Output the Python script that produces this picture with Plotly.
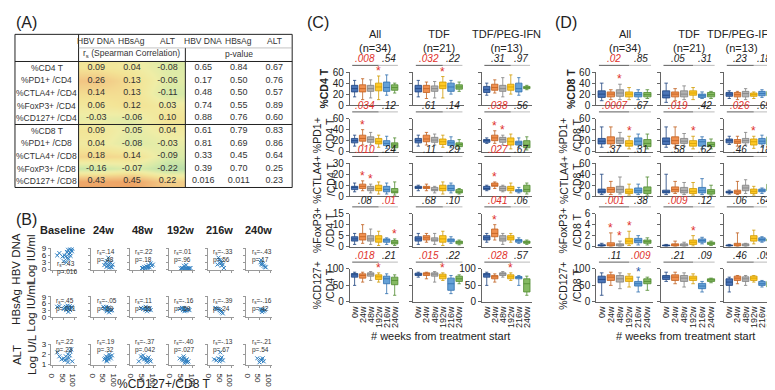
import plotly.graph_objects as go

W, H = 775, 390
FONT = "Liberation Sans, Arial, sans-serif"

# ------------------------------------------------------------------ (A) table data
TABLE_ROWS = ["%CD4 T", "%PD1+ /CD4", "%CTLA4+ /CD4", "%FoxP3+ /CD4", "%CD127+ /CD4",
              "%CD8 T", "%PD1+ /CD8", "%CTLA4+ /CD8", "%FoxP3+ /CD8", "%CD127+ /CD8"]
TABLE_COLS = ["HBV DNA", "HBsAg", "ALT"]
RS_HBVDNA = [0.09, 0.26, 0.14, 0.06, -0.03, 0.09, 0.04, 0.18, -0.16, 0.43]
RS_HBSAG = [0.04, 0.13, 0.13, 0.12, -0.06, -0.05, -0.08, 0.14, -0.07, 0.45]
RS_ALT = [-0.08, -0.06, -0.11, 0.03, 0.10, 0.04, -0.03, -0.09, -0.22, 0.22]
P_HBVDNA = ["0.65", "0.17", "0.48", "0.74", "0.88", "0.61", "0.81", "0.33", "0.39", "0.016"]
P_HBSAG = ["0.84", "0.50", "0.50", "0.55", "0.76", "0.79", "0.69", "0.45", "0.70", "0.011"]
P_ALT = ["0.67", "0.76", "0.57", "0.89", "0.60", "0.83", "0.86", "0.64", "0.25", "0.23"]

# ------------------------------------------------------------------ (B) scatter data
B_TIMES = ["Baseline", "24w", "48w", "192w", "216w", "240w"]
HBV_X = [[70, 78, 85, 88, 65, 75, 80, 60, 68, 72, 55, 45, 30, 20, 82, 90, 50, 63],
         [60, 65, 70, 75, 80, 85, 55, 62, 72, 78, 50, 68, 88],
         [50, 60, 70, 80, 90, 65, 75, 85, 55, 45, 95, 72],
         [45, 55, 60, 65, 70, 75, 80, 85, 60, 70, 90, 50],
         [40, 45, 50, 55, 48, 60, 55, 65, 35],
         [55, 60, 62, 65, 70, 75, 58, 80]]
HBV_Y = [[8.5, 8.8, 8.3, 7.8, 7.5, 6.5, 7.0, 5.5, 5.0, 4.5, 6.0, 5.5, 7.0, 6.0, 5.8, 8.9, 3.5, 3.0],
         [1.0, 1.5, 2.0, 2.5, 1.0, 0.8, 2.8, 3.5, 0.7, 3.0, 1.8, 5.0, 2.0],
         [0.5, 0.5, 0.5, 0.8, 1.5, 1.2, 1.8, 2.5, 1.0, 0.5, 2.0, 1.0],
         [0.3, 0.3, 0.3, 0.3, 0.3, 0.3, 0.3, 0.3, 1.5, 1.8, 0.5, 0.5],
         [5.0, 4.0, 3.5, 3.0, 2.5, 2.0, 1.5, 0.5, 2.0],
         [3.0, 2.5, 2.0, 2.2, 1.5, 1.0, 4.0, 0.8]]
HBSAG_X = [[20, 30, 50, 55, 60, 65, 70, 75, 78, 80, 85, 88, 72, 62, 68],
           [45, 50, 55, 60, 65, 70, 75, 80, 62, 58, 85, 72],
           [40, 50, 55, 60, 65, 70, 75, 80, 68, 85, 62],
           [40, 50, 55, 60, 65, 70, 75, 80, 62, 58, 85],
           [25, 30, 40, 45, 50, 55, 48, 60],
           [55, 60, 65, 70, 75, 62]]
HBSAG_Y = [[4.5, 4.8, 3.5, 4.0, 4.5, 3.8, 4.2, 3.5, 4.8, 3.0, 4.0, 4.5, 2.2, 3.0, 5.0],
           [4.5, 4.0, 3.5, 3.0, 3.8, 4.2, 3.2, 2.8, 2.5, 4.5, 3.0, 2.0],
           [4.0, 3.5, 4.0, 3.0, 3.5, 4.0, 3.2, 3.8, 2.5, 3.0, 4.5],
           [3.5, 4.0, 3.0, 3.5, 3.0, 2.8, 3.2, 3.5, 2.5, 4.0, 3.0],
           [4.0, 3.8, 3.5, 3.0, 2.5, 2.0, 3.2, 1.5],
           [3.5, 3.0, 3.2, 2.5, 3.0, 2.2]]
ALT_X = [[20, 30, 40, 50, 55, 60, 65, 70, 75, 80, 85, 90, 70, 78],
         [50, 55, 60, 65, 70, 75, 80, 85, 62, 72, 58],
         [30, 40, 45, 55, 60, 65, 70, 75, 80, 85, 50, 68],
         [40, 50, 55, 60, 65, 70, 75, 80, 58, 62, 72],
         [20, 30, 40, 45, 50, 55, 48, 60],
         [40, 55, 60, 65, 70, 50]]
ALT_Y = [[2.2, 1.8, 1.5, 1.6, 1.4, 1.8, 1.5, 2.0, 1.6, 2.3, 2.5, 1.3, 1.2, 1.9],
         [1.5, 1.6, 1.4, 1.7, 1.5, 1.8, 1.6, 1.9, 1.3, 2.0, 1.8],
         [1.3, 1.8, 1.6, 1.5, 1.6, 1.4, 1.5, 1.7, 1.4, 1.3, 1.9, 1.2],
         [1.6, 1.5, 1.4, 1.6, 1.3, 1.4, 1.2, 1.3, 1.8, 1.1, 1.5],
         [1.5, 1.4, 1.6, 1.3, 1.5, 1.7, 2.2, 1.4],
         [1.6, 1.5, 1.4, 1.6, 1.3, 1.2]]
HBV_RS = [".43", ".14", ".22", ".01", "-.33", "-.43"]
HBV_P = [".016", ".48", ".18", ".96", ".56", ".17"]
HBSAG_RS = [".45", "-.05", ".11", "-.16", "-.39", "-.16"]
HBSAG_P = [".011", ".69", ".55", ".59", ".24", ".42"]
ALT_RS = [".22", ".19", "-.37", "-.40", "-.13", "-.21"]
ALT_P = [".23", ".32", ".042", ".027", ".67", ".54"]

# ------------------------------------------------------------------ (C)/(D) box data
WEEKS = ["0w", "24w", "48w", "192w", "216w", "240w"]
GROUPS = ["All<br>(n=34)", "TDF<br>(n=21)", "TDF/PEG-IFN<br>(n=13)"]
# each box: (lower whisker, q1, median, q3, upper whisker)
C_CD4T = [
    [(15, 24, 30, 36, 45), (10, 24, 30, 37, 48), (13, 25, 30, 36, 46), (10, 26, 33, 40, 53), (18, 25, 32, 42, 55), (22, 27, 32, 37, 40)],
    [(15, 24, 30, 36, 45), (12, 23, 30, 36, 42), (13, 25, 30, 35, 43), (13, 30, 35, 42, 52), (20, 25, 33, 40, 45), (25, 29, 33, 37, 42)],
    [(18, 23, 28, 34, 40), (22, 27, 32, 38, 46), (15, 25, 30, 36, 50), (20, 27, 33, 38, 55), (18, 24, 30, 40, 50), (28, 30, 32, 34, 36)]]
C_PD1 = [
    [(10, 16, 20, 24, 30), (12, 19, 24, 30, 40), (12, 17, 22, 27, 35), (8, 14, 18, 24, 30), (6, 11, 15, 20, 28), (3, 7, 12, 16, 25)],
    [(10, 16, 20, 24, 30), (12, 18, 23, 30, 35), (12, 17, 21, 26, 32), (8, 13, 18, 23, 30), (7, 11, 16, 20, 27), (5, 9, 13, 16, 22)],
    [(15, 17, 20, 22, 25), (15, 20, 25, 30, 38), (12, 17, 22, 26, 30), (5, 12, 18, 25, 32), (8, 12, 16, 19, 25), (3, 7, 12, 20, 27)]]
C_CTLA4 = [
    [(4, 6, 8, 9, 12), (5, 7, 9, 11, 14), (3, 5, 7, 9, 11), (2, 5, 7, 10, 13), (2, 4, 6, 9, 12), (1, 3, 4, 7, 13)],
    [(5, 7, 8, 9, 10), (5, 7, 8, 9, 11), (3, 5, 6, 8, 9), (2, 5, 7, 10, 13), (3, 5, 7, 10, 12), (2, 3, 4, 6, 7)],
    [(5, 6, 7, 9, 10), (7, 9, 10, 12, 13), (4, 5, 7, 9, 10), (3, 5, 7, 9, 12), (3, 4, 5, 6, 8), (2, 4, 6, 10, 12)]]
C_FOXP3 = [
    [(1, 2.5, 3.5, 4.5, 6), (1.5, 3, 4.5, 6, 10), (1, 2.5, 3.5, 5, 8), (0.5, 2, 3.5, 5, 7), (1, 2, 3, 3.5, 4), (0.5, 1.2, 2, 2.8, 3.5)],
    [(1, 2.5, 3.5, 4.5, 6), (2, 3, 4, 5, 6), (1, 2.5, 3, 4, 6), (0.5, 2, 3.5, 5, 7), (1.5, 2.2, 3, 3.5, 4.5), (0.8, 1.3, 2, 2.5, 3)],
    [(2, 3, 4, 5, 6), (3, 4.5, 6, 8, 10), (1, 2.5, 3.5, 5, 6), (2, 3, 4, 5, 6), (1.5, 2, 2.8, 3.2, 4), (1, 1.5, 2, 2.5, 3)]]
C_CD127 = [
    [(50, 75, 82, 86, 90), (60, 72, 80, 85, 90), (65, 78, 84, 88, 92), (60, 68, 76, 82, 88), (25, 55, 70, 78, 85), (20, 52, 65, 75, 82)],
    [(75, 80, 84, 87, 90), (70, 80, 85, 88, 90), (60, 78, 84, 88, 92), (65, 70, 78, 84, 88), (25, 35, 55, 72, 80), (55, 62, 70, 78, 82)],
    [(50, 75, 82, 86, 90), (60, 70, 76, 80, 85), (75, 80, 85, 88, 92), (65, 70, 76, 82, 88), (50, 70, 74, 77, 80), (20, 30, 55, 70, 78)]]
D_CD8T = [
    [(8, 14, 20, 26, 40), (10, 15, 20, 24, 28), (10, 16, 22, 28, 38), (10, 15, 20, 24, 32), (10, 15, 19, 23, 28), (12, 15, 19, 23, 28)],
    [(5, 13, 18, 26, 40), (8, 15, 20, 24, 30), (10, 15, 20, 26, 35), (10, 18, 22, 26, 32), (12, 14, 17, 20, 24), (12, 15, 19, 23, 25)],
    [(12, 16, 20, 23, 26), (10, 15, 19, 23, 25), (10, 15, 21, 25, 30), (12, 16, 19, 22, 24), (14, 17, 21, 25, 28), (14, 17, 21, 25, 28)]]
D_PD1 = [
    [(8, 14, 19, 24, 45), (8, 14, 20, 27, 45), (10, 15, 20, 25, 35), (5, 10, 15, 20, 28), (5, 12, 19, 25, 32), (5, 9, 15, 22, 32)],
    [(8, 13, 19, 25, 45), (8, 14, 20, 27, 45), (10, 15, 19, 24, 33), (5, 10, 15, 20, 28), (5, 10, 18, 22, 27), (5, 9, 13, 17, 23)],
    [(13, 16, 20, 23, 28), (10, 15, 18, 22, 28), (12, 16, 20, 24, 35), (6, 12, 18, 23, 28), (8, 14, 19, 24, 30), (5, 12, 20, 27, 33)]]
D_CTLA4 = [
    [(3, 6, 9, 13, 40), (3, 7, 12, 16, 27), (4, 7, 12, 18, 35), (2, 5, 8, 13, 22), (3, 6, 10, 15, 22), (2, 5, 10, 17, 35)],
    [(3, 6, 8, 11, 40), (5, 8, 12, 17, 27), (3, 6, 10, 16, 25), (2, 5, 9, 14, 25), (3, 6, 10, 16, 32), (2, 4, 8, 12, 20)],
    [(4, 6, 7, 9, 11), (3, 5, 8, 11, 27), (5, 10, 15, 20, 30), (2, 5, 9, 13, 18), (5, 8, 10, 13, 15), (7, 10, 15, 22, 35)]]
D_FOXP3 = [
    [(0, 0.1, 0.2, 0.35, 0.6), (0, 0.1, 0.3, 0.7, 2.5), (0, 0.1, 0.3, 0.5, 1.0), (0.2, 0.5, 1.0, 1.5, 2.8), (0.3, 0.7, 1.1, 1.5, 2.0), (0.3, 0.6, 0.9, 1.2, 1.6)],
    [(0, 0.1, 0.2, 0.3, 0.4), (0, 0.1, 0.3, 0.5, 1.0), (0, 0.1, 0.3, 0.5, 0.8), (0.1, 0.4, 0.8, 1.2, 2.0), (0.5, 0.8, 1.1, 1.4, 1.7), (0.2, 0.4, 0.6, 0.8, 1.0)],
    [(0, 0.1, 0.2, 0.3, 0.4), (0, 0.1, 0.3, 0.6, 2.5), (0, 0.1, 0.3, 0.5, 0.6), (0.5, 1.0, 1.5, 2.0, 3.0), (0.8, 1.0, 1.3, 1.6, 1.8), (0.8, 1.0, 1.2, 1.4, 1.6)]]
D_CD127 = [
    [(20, 58, 68, 78, 88), (50, 65, 75, 82, 90), (40, 60, 70, 80, 88), (45, 62, 70, 78, 85), (30, 48, 55, 62, 75), (35, 55, 62, 70, 75)],
    [(62, 68, 75, 80, 90), (55, 65, 75, 82, 90), (45, 62, 72, 80, 88), (55, 65, 72, 78, 85), (30, 40, 48, 56, 62), (58, 62, 67, 70, 72)],
    [(30, 50, 60, 70, 75), (55, 65, 72, 78, 80), (50, 62, 70, 76, 80), (60, 65, 72, 78, 80), (45, 50, 55, 62, 65), (28, 45, 55, 62, 65)]]

C_LABELS = ["<b>%CD4 T</b>", "%PD1+<br>/CD4 T", "%CTLA4+<br>/CD4 T", "%FoxP3+<br>/CD4 T", "%CD127+<br>/CD4 T"]
D_LABELS = ["<b>%CD8 T</b>", "%PD1+<br>/CD8 T", "%CTLA4+<br>/CD8 T", "%FoxP3+<br>/CD8 T", "%CD127+<br>/CD8 T"]
C_YMAX = [60, 60, 30, 15, 100]
D_YMAX = [60, 60, 60, 6, 100]
C_P1 = [[".008", ".032", ".31"], [".034", ".61", ".038"], [".010", ".11", ".027"], [".08", ".68", ".041"], [".018", ".015", ".028"]]
C_P2 = [[".54", ".22", ".97"], [".12", ".14", ".56"], [".24", ".29", ".67"], [".01", ".10", ".06"], [".21", ".22", ".57"]]
D_P1 = [[".02", ".05", ".23"], [".0007", ".019", ".026"], [".37", ".58", ".46"], [".001", ".009", ".06"], [".11", ".21", ".46"]]
D_P2 = [[".85", ".31", ".18"], [".67", ".42", ".69"], [".31", ".62", ".18"], [".38", ".12", ".64"], [".009", ".09", ".09"]]
C_STARS = [[[3], [3], []], [[1], [], [1, 2]], [[1, 2], [], [1]], [[5], [], [1]], [[3], [3], [3]]]
D_STARS = [[[2], [], []], [[3], [3], [3]], [[], [], []], [[1, 2, 3], [3], []], [[], [], []]]
D_BLUE_STARS = [[[], [], []], [[], [], []], [[], [], []], [[], [], []], [[4], [], []]]

BOX_COLORS = ["#2a5caa", "#ed7d31", "#a5a5a5", "#ffc000", "#4a90d0", "#70ad47"]
BOX_EDGES = ["#1d437f", "#c0601e", "#808080", "#d09a00", "#2f6fae", "#4f8a2e"]
RED = "#e0312b"

# ------------------------------------------------------------------ helpers
layout = dict(width=W, height=H, margin=dict(l=0, r=0, t=0, b=0),
              paper_bgcolor="white", plot_bgcolor="rgba(0,0,0,0)", showlegend=False,
              font=dict(family=FONT, color="#222", size=10))
annotations, shapes, traces = [], [], []
_n = [0]


def new_axes(x0, x1, top, bottom, xa, ya):
    _n[0] += 1
    s = "" if _n[0] == 1 else str(_n[0])
    layout["xaxis" + s] = dict(xa, domain=[x0 / W, x1 / W], anchor="y" + s)
    layout["yaxis" + s] = dict(ya, domain=[1 - bottom / H, 1 - top / H], anchor="x" + s)
    return "x" + s, "y" + s


def ann(text, px, py, size=10, **kw):
    d = dict(text=text, x=px / W, y=1 - py / H, xref="paper", yref="paper", showarrow=False,
             xanchor="center", yanchor="middle",
             font=dict(size=size, family=FONT, color=kw.pop("color", "#222")))
    d.update(kw)
    annotations.append(d)


def hex_rgba(h, a):
    h = h.lstrip("#")
    return "rgba(%d,%d,%d,%.2f)" % (int(h[0:2], 16), int(h[2:4], 16), int(h[4:6], 16), a)


# ------------------------------------------------------------------ (A)
TX0, TX1, TY0, TY1 = 3, 282, 21, 179
DX0, DY0 = 67, 49
xr, yr = new_axes(DX0, TX1, DY0, TY1,
                  dict(range=[-0.5, 5.5], visible=False, fixedrange=True),
                  dict(range=[9.5, -0.5], visible=False, fixedrange=True))
rs_cols = [RS_HBVDNA, RS_HBSAG, RS_ALT]
z = [[rs_cols[c][r] for c in range(3)] for r in range(10)]
traces.append(go.Heatmap(z=z, x=[0, 1, 2], y=list(range(10)), zmin=-0.25, zmax=0.45, zsmooth="best",
                         colorscale=[[0, "#b2dcaa"], [0.2, "#d6eaa8"], [0.36, "#f0eda6"], [0.5, "#f3e496"],
                                     [0.72, "#f2c684"], [1, "#eea466"]],
                         showscale=False, hoverinfo="skip", xaxis=xr, yaxis=yr))
p_cols = [P_HBVDNA, P_HBSAG, P_ALT]
tx, ty, tt = [], [], []
for r in range(10):
    for c in range(3):
        tx.append(c); ty.append(r); tt.append("%.2f" % rs_cols[c][r])
        tx.append(c + 3); ty.append(r); tt.append(p_cols[c][r])
traces.append(go.Scatter(x=tx, y=ty, text=tt, mode="text", textfont=dict(size=9, color="#333", family=FONT),
                         hoverinfo="skip", xaxis=xr, yaxis=yr, cliponaxis=False))
cw = (TX1 - DX0) / 6.0
rh = (TY1 - DY0) / 10.0
for r, lab in enumerate(TABLE_ROWS):
    ann(lab, 35, DY0 + rh * (r + 0.5), size=8.5, color="#333")
for c in range(6):
    ann(TABLE_COLS[c % 3], DX0 + cw * (c + 0.5), 28, size=8.5, color="#333")
ann("r<sub>s</sub> (Spearman Correlation)", DX0 + cw * 1.5, 41, size=8.5, color="#333")
ann("p-value", DX0 + cw * 4.5, 41, size=8.5, color="#333")


def pline(x0, y0, x1, y1, color="#222", width=1):
    shapes.append(dict(type="line", xref="paper", yref="paper", x0=x0 / W, x1=x1 / W,
                       y0=1 - y0 / H, y1=1 - y1 / H, line=dict(color=color, width=width)))


shapes.append(dict(type="rect", xref="paper", yref="paper", x0=TX0 / W, x1=TX1 / W, y0=1 - TY1 / H, y1=1 - TY0 / H,
                   line=dict(color="#222", width=1)))
pline(DX0, TY0, DX0, TY1)
pline(DX0 + 3 * cw, 35, DX0 + 3 * cw, TY1)
pline(DX0, 35, TX1, 35, color="#999", width=0.6)
pline(TX0, DY0, TX1, DY0)
pline(TX0, DY0 + 5 * rh, TX1, DY0 + 5 * rh)
ann("(A)", 2, 9, size=16, xanchor="left")

# ------------------------------------------------------------------ (B)
ann("(B)", 2, 212, size=16, xanchor="left")
B_X0 = [39, 80, 119, 158, 197, 236]
B_ROWS = [("HBV DNA<br>Log IU/ml", HBV_X, HBV_Y, HBV_RS, HBV_P, [-0.3, 9.4], [0, 3, 6, 9], 241, 264),
          ("HBsAg<br>Log IU/ml", HBSAG_X, HBSAG_Y, HBSAG_RS, HBSAG_P, [-0.3, 9.4], [0, 3, 6, 9], 291, 313),
          ("ALT<br>Log U/L", ALT_X, ALT_Y, ALT_RS, ALT_P, [0.95, 3.08], [1, 2, 3], 340, 362)]
for c, t in enumerate(B_TIMES):
    ann("<b>%s</b>" % t, B_X0[c] + 12, 223, size=11)
for r, (lab, XS, YS, RS, PS, yrange, yticks, top, bot) in enumerate(B_ROWS):
    ann(lab, 12, (top + bot) / 2, size=11.5, textangle=-90)
    for c in range(6):
        xa = dict(range=[-10, 110], showgrid=False, zeroline=False, showline=True, linecolor="#999",
                  linewidth=1, ticks="outside", ticklen=2, tickcolor="#999", tickvals=[0, 50, 100],
                  showticklabels=(r == 2), tickfont=dict(size=8), fixedrange=True)
        ya = dict(range=yrange, showgrid=False, zeroline=False, showline=True, linecolor="#999",
                  linewidth=1, ticks="outside", ticklen=2, tickcolor="#999", tickvals=yticks,
                  showticklabels=(c == 0), tickfont=dict(size=8), fixedrange=True)
        xr, yr = new_axes(B_X0[c], B_X0[c] + 26, top, bot, xa, ya)
        traces.append(go.Scatter(x=XS[c], y=YS[c], mode="markers", xaxis=xr, yaxis=yr, hoverinfo="skip",
                                 marker=dict(symbol="x-thin", size=4, color="#2f7fc1",
                                             line=dict(width=1, color="#2f7fc1"))))
        if r == 0 and c == 0:
            ax_, ay_ = 0.15, 0.55
        elif r == 2:
            ax_, ay_ = 0.12, 1.35
        else:
            ax_, ay_ = 0.12, 1.05
        annotations.append(dict(text="r<sub>s</sub>=%s<br>p=%s" % (RS[c], PS[c]), x=ax_, y=ay_,
                                xref=xr + " domain", yref=yr + " domain", xanchor="left", yanchor="top",
                                showarrow=False, align="left", font=dict(size=6.5, family=FONT, color="#333")))
ann("%CD127+/CD8 T", 152, 382, size=12)

# ------------------------------------------------------------------ (C) and (D)
ROW_TB = [(60, 94), (108, 142), (154, 188), (206, 240), (263, 297)]


def box_panel(data_rows, labels, ymaxs, P1, P2, stars, blue_stars, col_x, label_x, title, title_x, c_extra,
              last_right=None):
    ann(title, title_x, 9, size=16, xanchor="left")
    for g in range(3):
        if g == 2 and last_right:
            ann(GROUPS[g], last_right, 28, size=11, xanchor="right")
        else:
            ann(GROUPS[g], (col_x[g][0] + col_x[g][1]) / 2, 28, size=11)
    for r in range(5):
        top, bot = ROW_TB[r]
        ann(labels[r], label_x, (top + bot) / 2, size=10.5, textangle=-90)
        ymax = ymaxs[r]
        step = {60: 20, 30: 10, 15: 5, 6: 2, 100: 50}[ymax]
        for g in range(3):
            xa = dict(range=[-0.6, 5.6], tickvals=list(range(6)), ticktext=WEEKS, tickangle=-90,
                      showticklabels=(r == 4), ticks="", showline=True, linecolor="#666", linewidth=1,
                      showgrid=False, zeroline=False, tickfont=dict(size=9), fixedrange=True)
            ya = dict(range=[0, ymax], tickvals=list(range(0, ymax + 1, step)),
                      showticklabels=(g == 0 or (c_extra and r == 4 and g == 2)), ticks="outside",
                      ticklen=3, tickcolor="#666", showline=True, linecolor="#666", linewidth=1,
                      showgrid=False, zeroline=False, tickfont=dict(size=10), fixedrange=True)
            xr, yr = new_axes(col_x[g][0], col_x[g][1], top, bot, xa, ya)
            for i in range(6):
                lo, q1, md, q3, hi = data_rows[r][g][i]
                traces.append(go.Box(x=[i], q1=[q1], median=[md], q3=[q3], lowerfence=[lo], upperfence=[hi],
                                     width=0.8, whiskerwidth=0.5, boxpoints=False,
                                     fillcolor=hex_rgba(BOX_COLORS[i], 0.85),
                                     line=dict(color=BOX_EDGES[i], width=0.8),
                                     hoverinfo="skip", xaxis=xr, yaxis=yr))
            for i in stars[r][g]:
                annotations.append(dict(text="*", x=i, y=data_rows[r][g][i][4], xref=xr, yref=yr,
                                        xanchor="center", yanchor="bottom", yshift=-4, showarrow=False,
                                        font=dict(size=12, color=RED, family=FONT)))
            for i in blue_stars[r][g]:
                annotations.append(dict(text="*", x=i, y=data_rows[r][g][i][4], xref=xr, yref=yr,
                                        xanchor="center", yanchor="bottom", yshift=-4, showarrow=False,
                                        font=dict(size=12, color="#2a5caa", family=FONT)))
            yl = 1 + 7.0 / 34
            shapes.append(dict(type="line", xref=xr, yref=yr + " domain", x0=-0.3, x1=3.0, y0=yl, y1=yl,
                               line=dict(color="#333", width=0.8)))
            shapes.append(dict(type="line", xref=xr, yref=yr + " domain", x0=3.0, x1=5.4, y0=yl, y1=yl,
                               line=dict(color="#aaa", width=0.8)))
            for txt, xc in ((P1[r][g], 1.35), (P2[r][g], 4.3)):
                col = RED if float(txt) < 0.05 else "#222"
                annotations.append(dict(text="<i>%s</i>" % txt, x=xc, y=yl, xref=xr, yref=yr + " domain",
                                        xanchor="center", yanchor="bottom", yshift=-1, showarrow=False,
                                        font=dict(size=10, color=col, family=FONT)))
    cx = (col_x[0][0] + col_x[2][1]) / 2
    ann("# weeks from treatment start", cx, 332, size=11)


box_panel([C_CD4T, C_PD1, C_CTLA4, C_FOXP3, C_CD127], C_LABELS, C_YMAX, C_P1, C_P2, C_STARS,
          [[[], [], []]] * 5, [(340, 390), (404, 455), (473, 523)], 314, "(C)", 295, True)
box_panel([D_CD8T, D_PD1, D_CTLA4, D_FOXP3, D_CD127], D_LABELS, D_YMAX, D_P1, D_P2, D_STARS,
          D_BLUE_STARS, [(588, 645), (653, 709), (717, 768)], 562, "(D)", 545, False, last_right=771)

layout["annotations"] = annotations
layout["shapes"] = shapes
fig = go.Figure(data=traces, layout=layout)
fig.write_html("out.html")
